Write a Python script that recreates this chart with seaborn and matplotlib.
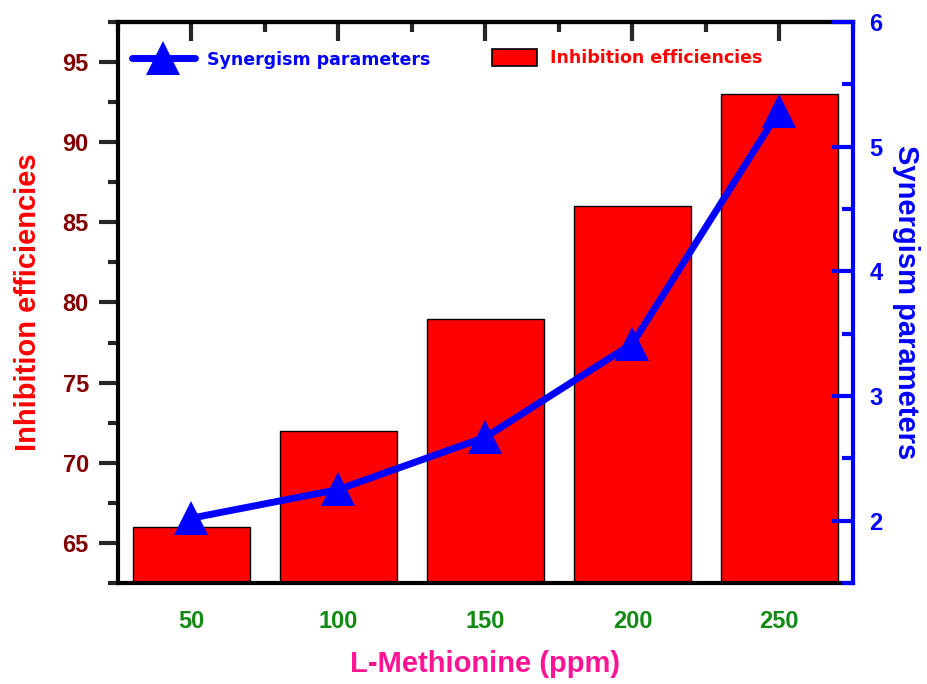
import matplotlib
matplotlib.use("Agg")
import matplotlib.pyplot as plt
import seaborn as sns
import pandas as pd
from matplotlib.ticker import MultipleLocator
from matplotlib.patches import Patch
from matplotlib.lines import Line2D

concentrations = [50, 100, 150, 200, 250]
inhibition = [66, 72, 79, 86, 93]
synergism = [2.02, 2.25, 2.67, 3.42, 5.29]

sns.set_style("white")
plt.rcParams['font.family'] = ['Liberation Sans', 'DejaVu Sans']
plt.rcParams['font.weight'] = 'bold'

df = pd.DataFrame({"conc": concentrations, "ie": inhibition, "sp": synergism})

fig = plt.figure(figsize=(9.27, 6.84), dpi=100)
ax = fig.add_axes([0.1273, 0.1477, 0.7927, 0.8201])

sns.barplot(data=df, x="conc", y="ie", native_scale=True, width=0.8,
            color="#FF0000", edgecolor="black", linewidth=1, saturation=1, ax=ax)
ax.set_xlim(25, 275)
ax.set_ylim(62.5, 97.5)

ax2 = ax.twinx()
sns.lineplot(data=df, x="conc", y="sp", color="#0000FF", linewidth=5,
             marker="^", markersize=25, markeredgewidth=0, ax=ax2)
for ln in ax2.get_lines():
    ln.set_solid_capstyle('round')
    ln.set_solid_joinstyle('round')
ax2.set_ylim(1.5, 6)

# ticks
ax.xaxis.set_major_locator(MultipleLocator(50))
ax.xaxis.set_minor_locator(MultipleLocator(25))
ax.yaxis.set_major_locator(MultipleLocator(5))
ax.yaxis.set_minor_locator(MultipleLocator(2.5))
ax2.yaxis.set_major_locator(MultipleLocator(1))
ax2.yaxis.set_minor_locator(MultipleLocator(0.5))

ax.tick_params(axis='x', which='major', direction='out', length=15, width=3,
               labelsize=17, labelcolor="#138A13", top=False, pad=4.5)
ax.tick_params(axis='x', which='minor', direction='out', length=10, width=3, top=False)
ax.tick_params(axis='y', which='major', direction='out', length=14, width=3,
               labelsize=17, labelcolor="#800000", right=False, pad=7)
ax.tick_params(axis='y', which='minor', direction='out', length=7, width=3, right=False)
ax2.tick_params(axis='y', which='major', direction='in', length=15, width=3,
                labelsize=17, labelcolor="#0000FF", color="#0000FF", pad=12)
ax2.tick_params(axis='y', which='minor', direction='in', length=8, width=3,
                color="#0000FF")

# inward ticks on the top edge
top = ax.secondary_xaxis('top')
top.xaxis.set_major_locator(MultipleLocator(50))
top.xaxis.set_minor_locator(MultipleLocator(25))
top.tick_params(axis='x', which='major', direction='in', length=14, width=3, labeltop=False)
top.tick_params(axis='x', which='minor', direction='in', length=7, width=3)
top.spines['top'].set_linewidth(3)

for lab in ax.get_xticklabels() + ax.get_yticklabels() + ax2.get_yticklabels():
    lab.set_fontweight('bold')

for s in ['left', 'bottom', 'top']:
    ax.spines[s].set_linewidth(3)
    ax.spines[s].set_color('black')
ax.spines['right'].set_visible(False)
ax2.spines['right'].set_linewidth(3)
ax2.spines['right'].set_color('#0000FF')
for s in ['left', 'bottom', 'top']:
    ax2.spines[s].set_visible(False)

ax.set_xlabel("L-Methionine (ppm)", fontsize=21, fontweight='bold', color="#FF1493", labelpad=12.5)
ax.set_ylabel("Inhibition efficiencies", fontsize=21, fontweight='bold', color="#FF0000", labelpad=15)
ax2.set_ylabel("Synergism parameters", fontsize=21, fontweight='bold', color="#0000FF",
               rotation=270, labelpad=27)

# legends
legend_font = {'family': 'DejaVu Sans', 'size': 12.5, 'weight': 'bold'}
h1 = Line2D([0], [0], color="#0000FF", linewidth=5, marker="^", markersize=25,
            markeredgewidth=0, solid_capstyle='round')
leg1 = ax2.legend([h1], ["Synergism parameters"], loc="upper left",
                  bbox_to_anchor=(-0.002, 0.977), frameon=False, handlelength=3.6,
                  handletextpad=0.7, prop=legend_font, labelcolor="#0000FF")
ax2.add_artist(leg1)
h2 = Patch(facecolor="#FF0000", edgecolor="black", linewidth=1.2)
ax2.legend([h2], ["Inhibition efficiencies"], loc="upper left",
           bbox_to_anchor=(0.488, 0.98), frameon=False, handlelength=2.6, handleheight=1.15,
           handletextpad=0.75, prop=legend_font, labelcolor="#FF0000")

fig.savefig("out.png", dpi=100)
